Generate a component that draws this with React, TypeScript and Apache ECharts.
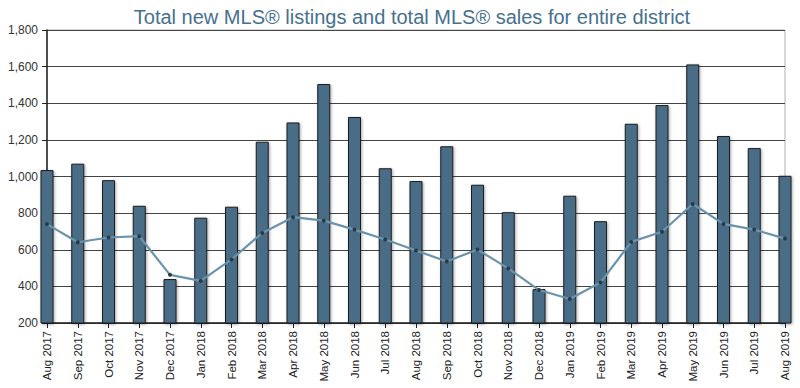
import React, { useEffect, useRef } from "react";
import * as echarts from "echarts";

const categories = [
  "Aug 2017", "Sep 2017", "Oct 2017", "Nov 2017", "Dec 2017", "Jan 2018", "Feb 2018", "Mar 2018",
  "Apr 2018", "May 2018", "Jun 2018", "Jul 2018", "Aug 2018", "Sep 2018", "Oct 2018", "Nov 2018",
  "Dec 2018", "Jan 2019", "Feb 2019", "Mar 2019", "Apr 2019", "May 2019", "Jun 2019", "Jul 2019", "Aug 2019",
];

const listings = [
  1035, 1070, 980, 840, 440, 775, 835, 1190, 1295, 1505, 1325, 1045,
  975, 1165, 955, 805, 385, 895, 756, 1288, 1390, 1612, 1221, 1155, 1004,
];

const sales = [
  740, 641, 667, 674, 463, 430, 547, 692, 778, 759, 710, 656,
  596, 536, 601, 498, 380, 331, 421, 643, 698, 850, 741, 710, 661,
];

const titleText = "Total new MLS® listings and total MLS® sales for entire district";

export default function App() {
  const ref = useRef<HTMLDivElement>(null);
  useEffect(() => {
    if (!ref.current) return;
    const chart = echarts.init(ref.current, null, { renderer: "svg" });
    chart.setOption({
      animation: false,
      backgroundColor: "#ffffff",
      title: {
        text: titleText,
        left: 407,
        textAlign: "center",
        top: 2,
        textStyle: {
          fontFamily: "Liberation Sans, Arial, sans-serif",
          fontSize: 20,
          fontWeight: "normal",
          color: "#46708f",
        },
      },
      grid: {
        left: 47,
        right: 15,
        top: 30,
        bottom: 65,
        containLabel: false,
        show: true,
        borderColor: "#b0b0b0",
        borderWidth: 1,
      },
      xAxis: {
        type: "category",
        data: categories,
        boundaryGap: false,
        axisLine: { show: true, lineStyle: { color: "#222", width: 1.5 } },
        axisTick: { show: true, length: 5, lineStyle: { color: "#222" }, alignWithLabel: true },
        axisLabel: {
          rotate: 90,
          interval: 0,
          fontFamily: "Liberation Sans, Arial, sans-serif",
          fontSize: 11.5,
          color: "#222",
          margin: 8,
        },
        splitLine: { show: false },
      },
      yAxis: {
        type: "value",
        min: 200,
        max: 1800,
        interval: 200,
        axisLine: { show: true, lineStyle: { color: "#222", width: 1.5 } },
        axisTick: { show: true, length: 5, lineStyle: { color: "#222" } },
        axisLabel: {
          fontFamily: "Liberation Sans, Arial, sans-serif",
          fontSize: 12,
          color: "#333",
          margin: 9,
          formatter: (v: number) => v.toLocaleString("en-US"),
        },
        splitLine: { show: true, lineStyle: { color: "#444", width: 1 } },
      },
      series: [
        {
          type: "bar",
          data: listings,
          barWidth: 13,
          clip: true,
          itemStyle: {
            color: "#4a6d87",
            borderColor: "#1c1c1c",
            borderWidth: 1,
            shadowBlur: 3,
            shadowColor: "rgba(0,0,0,0.35)",
            shadowOffsetX: 1,
            shadowOffsetY: 1,
          },
          z: 2,
        },
        {
          type: "line",
          data: sales,
          symbol: "circle",
          symbolSize: 4,
          itemStyle: { color: "#2a3a44" },
          lineStyle: { color: "#6a93ad", width: 2.2 },
          z: 3,
        },
      ],
    });
    return () => chart.dispose();
  }, []);
  return <div ref={ref} style={{ width: 800, height: 388, position: "absolute", left: 0, top: 0 }} />;
}
